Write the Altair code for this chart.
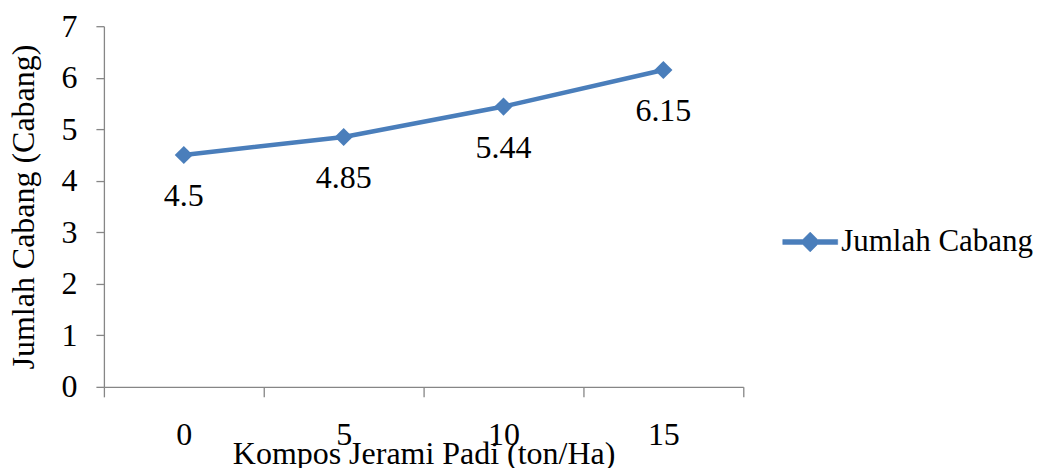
import altair as alt
import pandas as pd

# Rice-straw compost dose (ton/Ha) and mean number of branches
kompos = ["0", "5", "10", "15"]
jumlah_cabang = [4.5, 4.85, 5.44, 6.15]
series_name = "Jumlah Cabang"
y_ticks = [0, 1, 2, 3, 4, 5, 6, 7]

df = pd.DataFrame({
    "kompos": kompos,
    "cabang": jumlah_cabang,
    "seri": [series_name] * len(kompos),
})

BLUE = "#4A7EBB"
AXIS_GRAY = "#868686"
FONT = "Liberation Serif"
FS = 32

# line symbol with a diamond in the middle, used for the legend entry
legend_symbol = (
    "M-1,-0.09L-0.27,-0.09L0,-0.36L0.27,-0.09L1,-0.09"
    "L1,0.09L0.27,0.09L0,0.36L-0.27,0.09L-1,0.09Z"
)

x_enc = alt.X(
    "kompos:O",
    sort=kompos,
    scale=alt.Scale(type="band", paddingInner=0, paddingOuter=0),
    axis=alt.Axis(
        title="Kompos Jerami Padi (ton/Ha)",
        labelAngle=0,
        labelFont=FONT,
        titleFont=FONT,
        tickBand="extent",
        tickSize=10,
        labelPadding=23,
        titlePadding=-12,
    ),
)
y_enc = alt.Y(
    "cabang:Q",
    scale=alt.Scale(domain=[0, 7], nice=False),
    axis=alt.Axis(
        title="Jumlah Cabang (Cabang)",
        values=y_ticks,
        format="d",
        labelFont=FONT,
        titleFont=FONT,
        grid=False,
        tickSize=8,
        labelPadding=19,
        titlePadding=20,
    ),
)

line = alt.Chart(df).mark_line(
    strokeWidth=4.5,
    point=alt.OverlayMarkDef(shape="diamond", size=330, filled=True, color=BLUE),
).encode(
    x=x_enc,
    y=y_enc,
    color=alt.Color(
        "seri:N",
        scale=alt.Scale(range=[BLUE]),
        legend=alt.Legend(
            title=None,
            orient="none",
            legendX=679,
            legendY=188,
            padding=0,
            symbolType=legend_symbol,
            symbolSize=3025,
            symbolFillColor=BLUE,
            symbolStrokeColor=BLUE,
            symbolStrokeWidth=0.5,
            labelFont=FONT,
            labelFontSize=31,
            labelColor="#000000",
            labelOffset=3,
            labelLimit=400,
        ),
    ),
)

labels = alt.Chart(df).mark_text(
    font=FONT, fontSize=FS, color="#000000", dy=41, baseline="middle"
).encode(
    x=alt.X("kompos:O", sort=kompos),
    y="cabang:Q",
    text=alt.Text("cabang:Q"),
)

chart = alt.layer(line, labels).properties(
    width=640,
    height=361,
    autosize=alt.AutoSizeParams(type="none"),
    padding={"left": 104, "top": 26, "right": 297, "bottom": 81},
    background="#ffffff",
).configure(
    font=FONT
).configure_view(
    strokeWidth=0
).configure_axis(
    domainColor=AXIS_GRAY,
    tickColor=AXIS_GRAY,
    domainWidth=1.3,
    tickWidth=1.3,
    labelFontSize=FS,
    labelColor="#000000",
    titleFontSize=FS,
    titleFontWeight="normal",
    titleColor="#000000",
)

chart.save("out.html", embed_options={"renderer": "svg", "actions": False})
